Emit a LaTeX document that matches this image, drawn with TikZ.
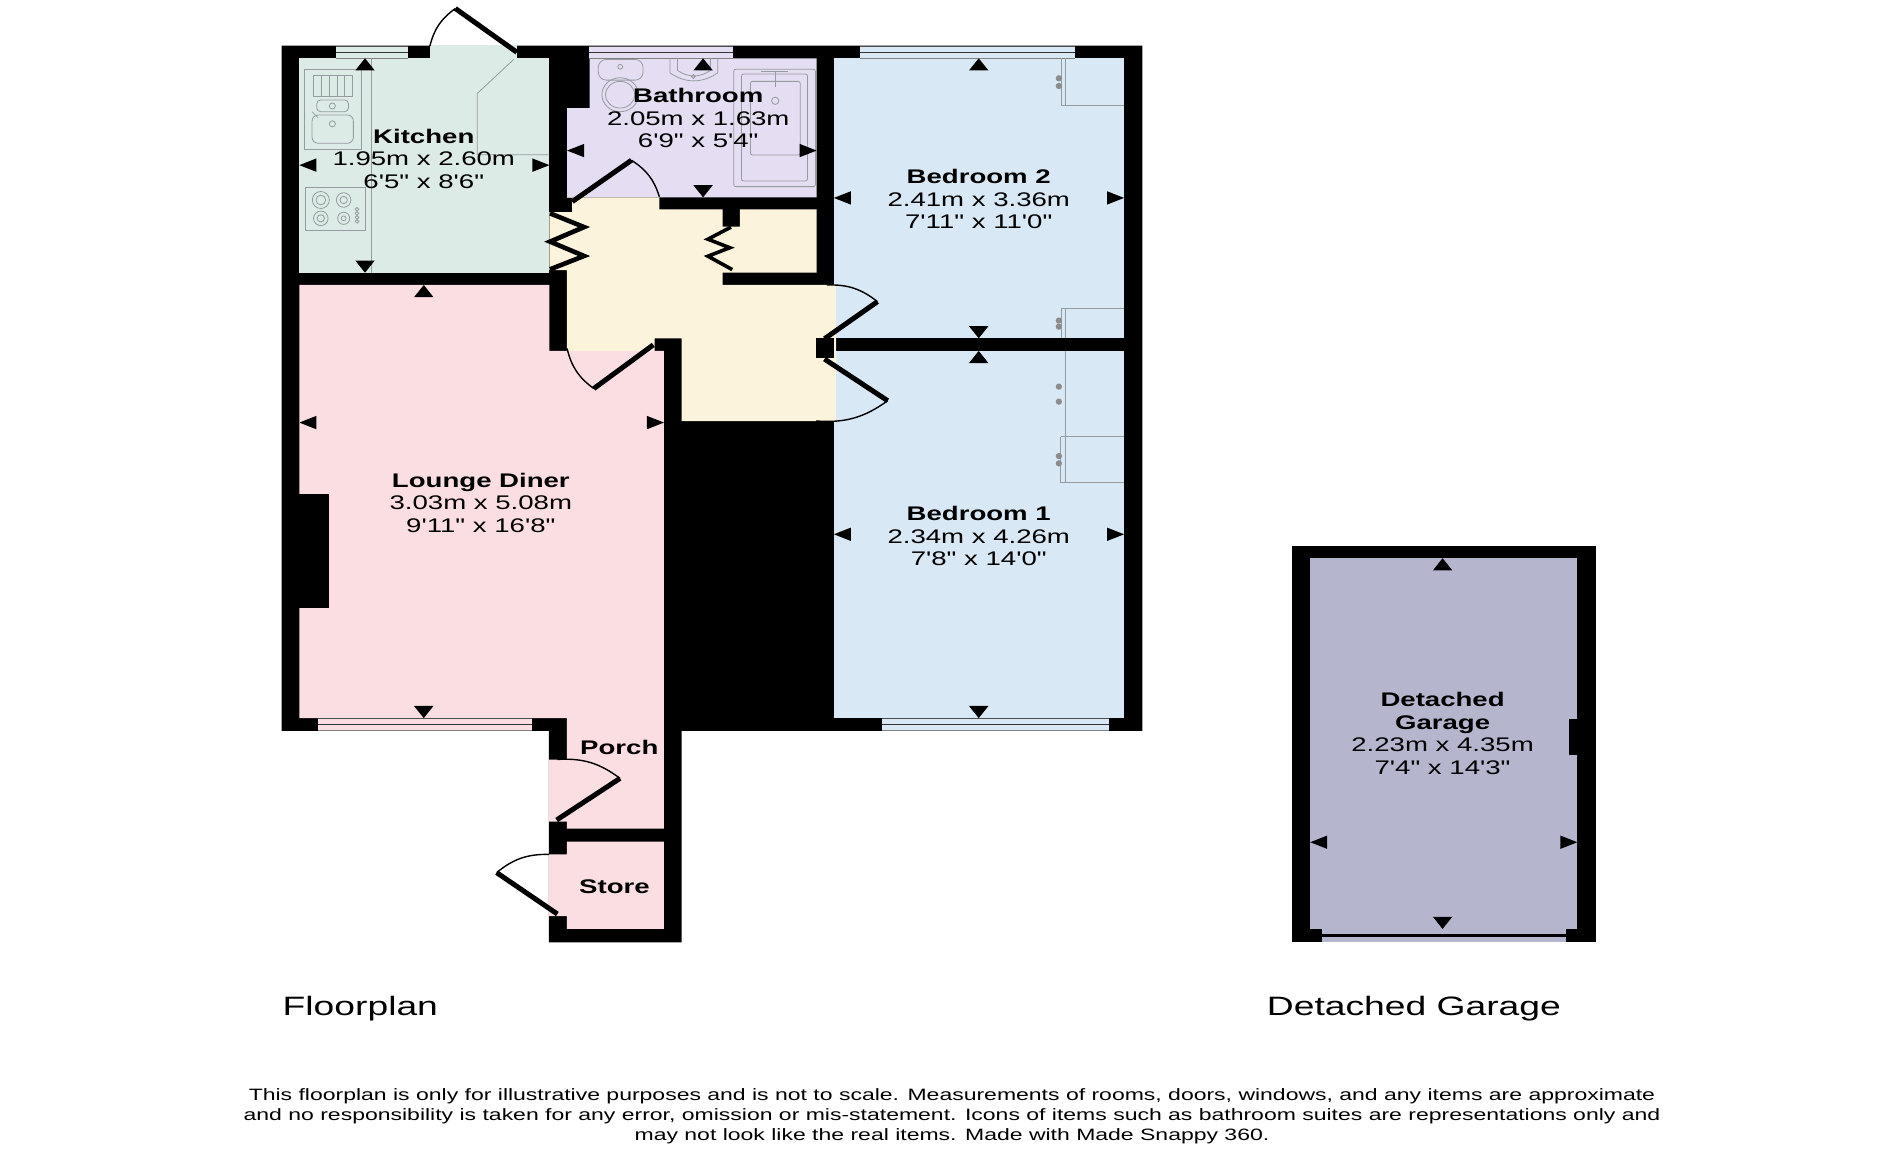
\documentclass[tikz,border=0pt]{standalone}
\usepackage{fontspec}
\newfontfamily\planfont[FakeStretch=1.4]{Liberation Sans}
\definecolor{kitchenfill}{RGB}{220,235,230}
\definecolor{loungefill}{RGB}{251,222,226}
\definecolor{bathfill}{RGB}{229,221,241}
\definecolor{hallfill}{RGB}{252,243,220}
\definecolor{bedfill}{RGB}{217,232,245}
\definecolor{garagefill}{RGB}{181,182,206}
\definecolor{fitline}{RGB}{150,155,160}
\tikzset{
  roomlabel/.style={align=center,inner sep=0pt,font=\planfont\fontsize{9.85}{11.25}\selectfont},
  planlabel/.style={anchor=west,inner sep=0pt,font=\planfont\fontsize{13.3}{15}\selectfont},
  notelabel/.style={align=center,inner sep=0pt,font=\planfont\fontsize{8.21}{10.05}\selectfont},
  fitting/.style={draw=fitline,line width=0.4pt},
  leaf/.style={line width=2.5pt},
  swing/.style={line width=0.7pt}
}
\begin{document}
\begin{tikzpicture}[x=0.6071pt,y=-0.6071pt]
        \useasboundingbox (0,0) rectangle (1568,962);

        % draw the walls as solid black
        \fill (232,37.6) -- (940.7,37.6) -- (940.7,601.8) -- (561.4,601.8) -- (561.4,776) -- (452,776)
            -- (452,601.8) -- (232,601.8) -- cycle;
        \fill (1064,449.4) rectangle (1314,776);

        % draw the rooms
        \fill[kitchenfill] (246.5,48) rectangle (452.5,224.6);
        \fill[kitchenfill] (354,37) rectangle (425.6,48);
        \fill[bathfill] (485.5,48) -- (672.5,48) -- (672.5,162.5) -- (467,162.5) -- (467,89) -- (485.5,89) -- cycle;
        \fill[bedfill] (686.7,48) rectangle (925.7,278.6);
        \fill[bedfill] (686.7,289) rectangle (925.7,591.4);
        \fill[loungefill] (246.5,234.7) -- (452.5,234.7) -- (452.5,289) -- (546.8,289) -- (546.8,682.4)
            -- (466.8,682.4) -- (466.8,676.7) -- (452,676.7) -- (452,625.5) -- (466.8,625.5)
            -- (466.8,591.4) -- (246.5,591.4) -- cycle;
        \fill[loungefill] (466.8,693) -- (546.8,693) -- (546.8,765) -- (466.8,765) -- (466.8,754.5)
            -- (452,754.5) -- (452,703.6) -- (466.8,703.6) -- cycle;
        \fill[hallfill] (467,162.5) -- (543,162.5) -- (543,172.4) -- (595,172.4) -- (595,186.7) -- (609.4,186.7)
            -- (609.4,172.4) -- (672.5,172.4) -- (672.5,224.6) -- (595,224.6) -- (595,234.7) -- (688.6,234.7)
            -- (688.6,346.8) -- (561.4,346.8) -- (561.4,278.6) -- (539,278.6) -- (539,289) -- (466.8,289)
            -- (466.8,222.4) -- (452.5,222.4) -- (452.5,174.3) -- (467,174.3) -- cycle;
        \fill[garagefill] (1079,459.7) rectangle (1299,765);
        \fill[garagefill] (1089,765) rectangle (1290,776);

        % draw the wall stubs and the chimney
        \fill (452.5,163) rectangle (471.3,174.3);
        \fill (672.3,278.6) rectangle (686.7,294.6);
        \fill (246,407) rectangle (271,501);
        \fill (1292,592) rectangle (1300,622);
        \fill (1089,769) rectangle (1290,772);

        % draw the windows
        \foreach \xa/\xb/\ya/\col in {
            277/336/38/kitchenfill, 485/604/38/bathfill, 708/885/38/bedfill,
            262/438/591.5/loungefill, 726/913/591.5/bedfill}
        {
            \fill[\col] (\xa,\ya) rectangle (\xb,\ya+10);
            \draw[line width=0.4pt,black!70] (\xa,\ya) -- (\xb,\ya);
            \draw[line width=0.6pt,black!80] (\xa,\ya+5) -- (\xb,\ya+5);
            \draw[line width=0.4pt,black!50] (\xa,\ya+10) -- (\xb,\ya+10);
        }

        % draw the doors: leaf first, then the swing
        \foreach \ax/\ay/\bx/\by/\cx/\cy/\bend in {
            425.6/43/375/7/354/38/right,
            471.3/166/520/132/543/162/left,
            538/284/489/320/467/287/left,
            679/279/722.6/248.4/681/234.7/right,
            679/295.7/731/330/672/346.7/left,
            458.4/675.3/510.6/641/459/625.4/right,
            459/752.7/409/718.6/452/703.6/left}
        {
            \draw[leaf] (\ax,\ay) -- (\bx,\by);
            \draw[swing] (\bx,\by) to[bend \bend=20] (\cx,\cy);
        }
        % folding doors
        \draw[line width=2.3pt] (453,175.7) -- (481,187) -- (453,199) -- (481,210.8) -- (453,221.8);
        \draw[line width=1.8pt] (602,187) -- (583,197) -- (601,204) -- (583,211) -- (603,222);

        % draw the kitchen fittings
        \draw[fitting] (423,49) -- (393,77) -- (393,127.5) -- (452.5,127.5);
        \draw[fitting] (305.8,48) -- (305.8,224.6);
        \draw[fitting] (250.7,57) rectangle (297.3,123);
        \draw[fitting] (258,62.3) rectangle (290,79.6);
        \foreach \x in {264.5,271,277.5,284}
            \draw[fitting] (\x,62.3) -- (\x,79.6);
        \draw[fitting,rounded corners=2pt] (260.8,82.3) rectangle (287,92);
        \draw[fitting,rounded corners=3pt] (257,94.7) rectangle (291,118);
        \draw[fitting] (273.7,87.3) circle (2.5) (273.7,102) circle (2.5);
        \draw[fitting] (257,92) -- (262,97);
        \draw[fitting] (251.3,154.3) rectangle (301,189.4);
        \foreach \x/\y/\r in {264.2/164.7/7, 283/164.7/6, 264.2/179.8/6, 283/179.8/5}
            \draw[fitting] (\x,\y) circle (\r) (\x,\y) circle (\r-3);
        \foreach \y in {172.4,175.7,179,182.3}
            \draw[fitting] (294,\y) circle (1.5);

        % draw the bathroom fittings
        \draw[fitting,rounded corners=4pt] (492.7,49) rectangle (529.6,66);
        \draw[fitting] (510.7,78) ellipse (15 and 14);
        \draw[fitting] (510.7,78) ellipse (12 and 11);
        \draw[fitting] (510.7,55) circle (2);
        \draw[fitting] (551.7,48) -- (551.7,60) to[bend right=35] (591,60) -- (591,48);
        \draw[fitting] (558,48) -- (558,58) to[bend right=35] (585,58) -- (585,48);
        \draw[fitting] (571,63) circle (1.5);
        \draw[fitting,rounded corners=1pt] (604.3,57) rectangle (671.5,153.7);
        \draw[fitting,rounded corners=1pt] (610.6,61) rectangle (665,149);
        \draw[fitting,rounded corners=1pt] (618,67) rectangle (659,127.6);
        \draw[fitting] (627,59) -- (649,59) (638.4,59) -- (638.4,72);
        \draw[fitting] (638.4,83) circle (3);

        % draw the wardrobes
        \draw[fitting] (874.3,48) -- (874.3,87) -- (925.7,87) (877,48) -- (877,87);
        \draw[fitting] (925.7,254) -- (874.3,254) -- (874.3,278.6) (877,254) -- (877,278.6);
        \draw[fitting] (877,289) -- (877,397.5) (873.5,359.6) -- (873.5,397.5) -- (925.7,397.5) (873.5,359.6) -- (925.7,359.6);
        \foreach \y in {64.5,70.8,264,269,318.4,330.8,375.6,381.6}
            \fill[black!45] (872,\y) ellipse (2.6 and 2.6);

        % draw the measuring marks
        \foreach \x/\y/\dx/\dy in {
            246.5/136/-1/0, 452.5/136/1/0, 300.6/48/0/-1, 300.6/224.6/0/1,
            246.5/348/-1/0, 546.8/348/1/0, 349/234.7/0/-1, 349/591.4/0/1,
            467/124/-1/0, 672.5/124/1/0, 579/48/0/-1, 579/162.5/0/1,
            686.7/163/-1/0, 925.7/163/1/0, 806/48/0/-1, 806/278.6/0/1,
            686.7/440/-1/0, 925.7/440/1/0, 806/289/0/-1, 806/591.4/0/1,
            1079/693.6/-1/0, 1299/693.6/1/0, 1188/459.7/0/-1, 1188/765/0/1}
            \fill (\x,\y) -- ({\x-14*\dx+8*\dy},{\y-10*\dy+5.5*\dx})
                -- ({\x-14*\dx-8*\dy},{\y-10*\dy-5.5*\dx}) -- cycle;

        % draw the room names
        \node[roomlabel] (kitchen) at (349,130.5) {\textbf{Kitchen}\\1.95m x 2.60m\\6'5" x 8'6"};
        \node[roomlabel] (bathroom) at (575,97.5) {\textbf{Bathroom}\\2.05m x 1.63m\\6'9" x 5'4"};
        \node[roomlabel] (bedtwo) at (806,164) {\textbf{Bedroom 2}\\2.41m x 3.36m\\7'11" x 11'0"};
        \node[roomlabel] (lounge) at (396,414) {\textbf{Lounge Diner}\\3.03m x 5.08m\\9'11" x 16'8"};
        \node[roomlabel] (bedone) at (806,441.5) {\textbf{Bedroom 1}\\2.34m x 4.26m\\7'8" x 14'0"};
        \node[roomlabel] (garage) at (1188,604) {\textbf{Detached}\\\textbf{Garage}\\2.23m x 4.35m\\7'4" x 14'3"};
        \node[roomlabel] (porch) at (510,615.5) {\textbf{Porch}};
        \node[roomlabel] (store) at (506,730.5) {\textbf{Store}};

        % draw the titles and the note
        \node[planlabel] (floorplan) at (232.5,831) {Floorplan};
        \node[planlabel] (garagetitle) at (1043,831) {Detached Garage};
        \node[notelabel] (note) at (784,919.5) {This floorplan is only for illustrative purposes and is not to scale. Measurements of rooms, doors, windows, and any items are approximate\\
            and no responsibility is taken for any error, omission or mis-statement. Icons of items such as bathroom suites are representations only and\\
            may not look like the real items. Made with Made Snappy 360.};
\end{tikzpicture}
\end{document}
